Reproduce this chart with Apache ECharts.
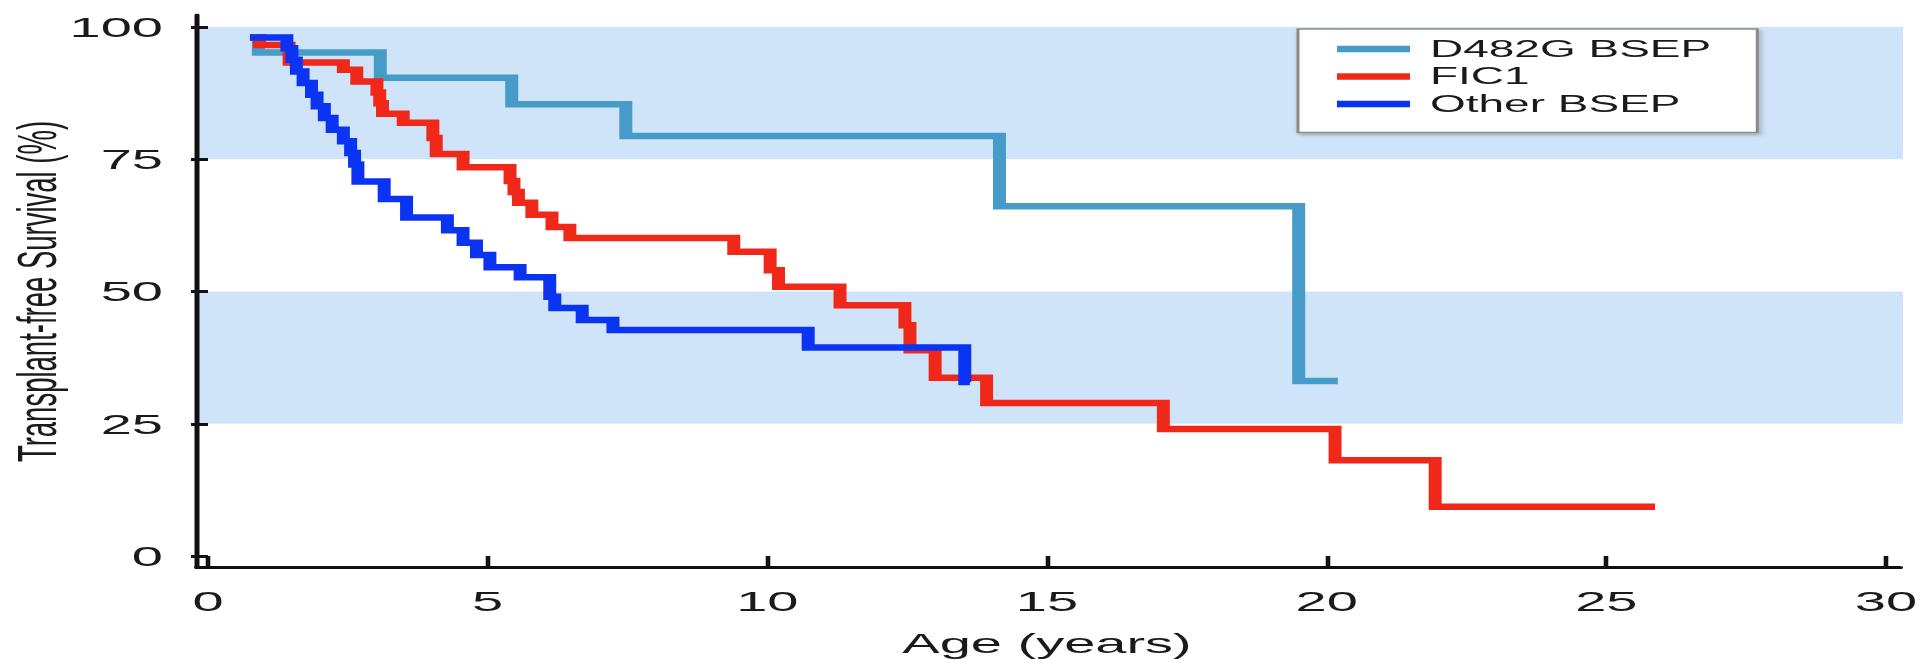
<!DOCTYPE html>
<html>
<head>
<meta charset="utf-8">
<script src="https://cdn.jsdelivr.net/npm/echarts@6/dist/echarts.min.js"></script>
<style>
  html, body { margin: 0; padding: 0; background: #ffffff; overflow: hidden; }
  #wrap { width: 1917px; height: 660px; overflow: hidden; }
  /* the reference is horizontally stretched about 2x: draw at half width and stretch */
  #chart { width: 958.5px; height: 660px; transform: scaleX(2); transform-origin: 0 0; }
</style>
</head>
<body>
<div id="wrap"><div id="chart"></div></div>
<script>
// ---- data ----
const seriesNames = ['D482G BSEP', 'FIC1', 'Other BSEP'];
const xTicks = [0, 5, 10, 15, 20, 25, 30];
const yTicks = [0, 25, 50, 75, 100];

const d482gAge  = [0.75, 0.90, 3.08, 5.43, 7.47, 14.15, 19.50, 20.20];
const d482gSurv = [98.0, 95.2, 90.4, 85.4, 79.4, 66.1, 33.1, 33.1];

const fic1Age  = [0.75, 0.92, 1.45, 2.42, 2.66, 3.02, 3.07, 3.12, 3.49, 4.02, 4.08, 4.56, 5.40, 5.47, 5.55, 5.79, 6.15, 6.47, 9.40, 10.05, 10.20, 11.30, 12.46, 12.55, 13.00, 13.92, 17.08, 20.15, 21.94, 25.87];
const fic1Surv = [98.0, 96.6, 93.3, 91.9, 89.7, 87.6, 85.6, 83.6, 81.9, 79.0, 76.0, 73.5, 70.9, 68.8, 66.8, 64.5, 62.2, 60.1, 57.5, 54.0, 50.9, 47.4, 43.6, 38.9, 33.7, 28.9, 24.0, 18.1, 9.3, 9.3];

const otherAge  = [0.75, 1.41, 1.50, 1.58, 1.70, 1.85, 1.95, 2.08, 2.22, 2.42, 2.55, 2.62, 2.68, 3.15, 3.55, 4.28, 4.56, 4.80, 5.04, 5.58, 6.11, 6.20, 6.69, 7.24, 10.73, 13.53, 13.62];
const otherSurv = [98.0, 96.0, 93.8, 91.6, 89.4, 87.2, 85.0, 82.8, 80.6, 78.4, 76.2, 74.0, 70.8, 67.5, 64.0, 61.6, 59.2, 56.9, 54.6, 52.7, 49.0, 46.9, 44.6, 42.7, 39.4, 32.9, 32.9];

const colors = ['#479bc8', '#f0281a', '#0a33f2'];
// ---------------------------------------

const pairs = (a, b) => a.map((t, i) => [t, b[i]]);
const FONT = "'Liberation Sans', Arial, Helvetica, sans-serif";
const TXT = '#1a1a1a';

const xMin = xTicks[0], xMax = xTicks[xTicks.length - 1], xInt = xTicks[1] - xTicks[0];
const yMin = yTicks[0], yMax = yTicks[yTicks.length - 1], yInt = yTicks[1] - yTicks[0];

const chart = echarts.init(document.getElementById('chart'), null, { renderer: 'svg' });

const hidden = { show: false };

function km(name, age, surv, color, z) {
  return {
    name: name, type: 'line', step: 'end', xAxisIndex: 1, yAxisIndex: 1,
    data: pairs(age, surv), symbol: 'none', z: z,
    color: color,
    lineStyle: { color: color, width: 6.5, join: 'miter', cap: 'butt' },
    emphasis: { disabled: true }
  };
}

chart.setOption({
  animation: false,
  backgroundColor: '#ffffff',
  grid: [
    // 0: shaded bands
    { left: 98.5, width: 853, top: 27, height: 529, containLabel: false, outerBoundsMode: 'none' },
    // 1: data
    { left: 104, width: 839, top: 27, height: 529, containLabel: false, outerBoundsMode: 'none' },
    // 2: axis lines frame
    { left: 98.5, width: 851.5, top: 15, height: 552, containLabel: false, outerBoundsMode: 'none' }
  ],
  xAxis: [
    { gridIndex: 0, type: 'value', min: xMin, max: xMax, interval: xInt,
      axisLine: hidden, axisTick: hidden, axisLabel: hidden, splitLine: hidden },
    { gridIndex: 1, type: 'value', min: xMin, max: xMax, interval: xInt,
      offset: 11,
      name: 'Age (years)', nameLocation: 'middle', nameGap: 62, nameMoveOverlap: false,
      nameTextStyle: { fontFamily: FONT, fontSize: 28, color: TXT },
      axisLine: hidden,
      axisTick: { show: true, length: 13, lineStyle: { color: '#111', width: 2.3 } },
      axisLabel: { margin: 20, fontFamily: FONT, fontSize: 28, color: TXT },
      splitLine: hidden },
    { gridIndex: 2, type: 'value', min: 0, max: 1,
      axisLine: { show: true, onZero: false, lineStyle: { color: '#111', width: 3 } },
      axisTick: hidden, axisLabel: hidden, splitLine: hidden }
  ],
  yAxis: [
    { gridIndex: 0, type: 'value', min: yMin, max: yMax, interval: yInt,
      axisLine: hidden, axisTick: hidden, axisLabel: hidden, splitLine: hidden,
      splitArea: { show: true, areaStyle: { color: ['rgba(255,255,255,0)', '#cfe4f8'] } } },
    { gridIndex: 1, type: 'value', min: yMin, max: yMax, interval: yInt,
      offset: 5.5,
      name: 'Transplant-free Survival (%)', nameLocation: 'middle', nameGap: 66, nameMoveOverlap: false,
      nameTextStyle: { fontFamily: FONT, fontSize: 27.5, color: TXT },
      axisLine: hidden,
      axisTick: { show: true, length: 8.5, lineStyle: { color: '#111', width: 3 } },
      axisLabel: { margin: 17, fontFamily: FONT, fontSize: 28, color: TXT },
      splitLine: hidden },
    { gridIndex: 2, type: 'value', min: 0, max: 1,
      axisLine: { show: true, onZero: false, lineStyle: { color: '#111', width: 2.5 } },
      axisTick: hidden, axisLabel: hidden, splitLine: hidden }
  ],
  legend: {
    data: seriesNames,
    orient: 'vertical', left: 649, top: 29,
    padding: [8.5, 23, 17, 19.5],
    itemWidth: 36.5, itemHeight: 6.5, itemGap: 4.5, icon: 'rect',
    backgroundColor: '#ffffff', borderColor: '#8a8a8a', borderWidth: 1.5,
    shadowColor: 'rgba(0,0,0,0.25)', shadowBlur: 3, shadowOffsetX: 1, shadowOffsetY: 2,
    selectedMode: false,
    textStyle: { fontFamily: FONT, fontSize: 23, color: TXT, lineHeight: 20, padding: [0, 0, 0, 5] }
  },
  series: [
    km(seriesNames[0], d482gAge, d482gSurv, colors[0], 2),
    km(seriesNames[1], fic1Age, fic1Surv, colors[1], 3),
    km(seriesNames[2], otherAge, otherSurv, colors[2], 4)
  ]
});
</script>
</body>
</html>
